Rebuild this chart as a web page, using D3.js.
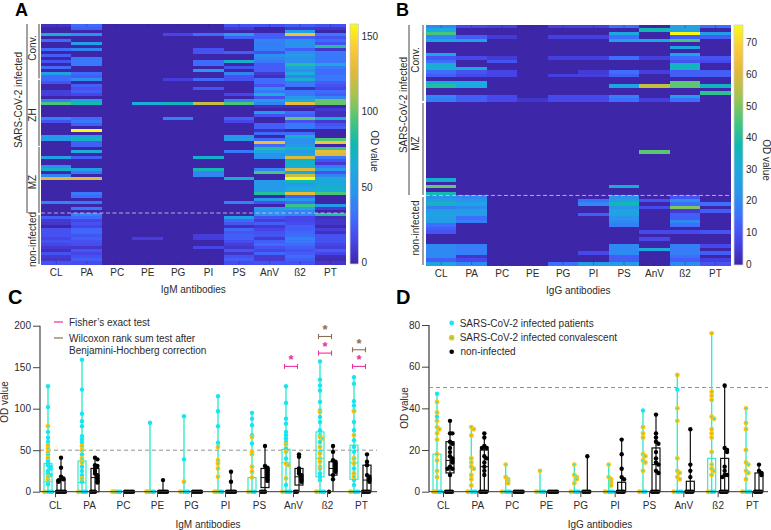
<!DOCTYPE html>
<html><head><meta charset="utf-8">
<script src="https://cdn.jsdelivr.net/npm/d3@7/dist/d3.min.js"></script>
<style>
html,body{margin:0;padding:0;background:#fff}
svg{display:block}
text{font-family:"Liberation Sans",Arial,sans-serif;fill:#2b2b2b}
</style></head><body><svg id="c" width="771" height="530"></svg>
<script>
const categories=["CL","PA","PC","PE","PG","PI","PS","AnV","ß2","PT"];
const parulaStops=["#3e26a8","#4746eb","#3e6ffe","#2797eb","#1caadf","#0fb9b1","#48c67a","#a2c450","#e0b93b","#fcc938","#f9fb15"];

// Panel A heat map: row -> OD value, one object per antibody (80 rows)
const igmCL={0:6,3:70,5:30,8:30,10:25,12:20,14:30,16:55,17:30,18:30,19:20,22:12,23:12,25:40,26:95,31:40,32:20,37:50,38:50,44:55,47:45,48:70,50:40,51:125,59:40,64:25,65:10,66:8,68:20,69:20,70:20,71:15,72:20,73:15,74:10,75:5,76:20,77:10,78:8,79:20};
const igmPA={0:30,1:25,3:45,6:55,8:40,11:35,12:35,13:35,16:30,17:25,18:45,20:25,21:20,22:25,23:15,25:55,26:80,31:30,32:35,33:25,35:158,37:55,38:75,39:25,40:25,42:65,44:25,48:55,49:35,51:125,56:35,57:30,59:35,61:35,63:40,64:30,65:15,66:20,67:15,68:28,69:28,70:22,71:25,72:20,73:18,74:8,75:22,76:15,77:20,78:25,79:18};
const igmPC={};
const igmPE={26:65,71:12};
const igmPG={3:15,18:12,26:75,31:40};
const igmPI={3:30,8:20,9:20,12:30,13:30,15:50,18:30,21:22,26:120,44:70,48:80,49:40,50:40,70:12,71:12,74:15};
const igmPS={0:20,1:10,3:55,4:25,9:25,12:70,14:20,16:40,17:20,18:20,23:15,25:40,26:95,31:25,32:15,37:50,38:50,42:35,51:70,59:40,64:55,65:30,66:22,67:5,68:28,69:22,70:25,71:25,72:18,73:12,74:8,75:22,76:8,77:20,78:25,79:18};
const igmAnV={0:20,3:25,4:25,5:40,6:38,7:38,8:38,9:20,10:45,11:40,12:35,13:25,14:25,15:25,16:10,17:5,18:30,19:30,20:20,21:45,22:35,23:65,24:20,25:50,26:40,27:5,29:50,30:20,33:25,34:25,35:5,36:30,38:30,39:132,40:30,41:85,42:60,43:45,44:45,48:40,49:95,52:50,53:50,54:50,55:50,56:85,58:50,59:20,61:50,62:45,63:45,64:20,65:12,66:25,67:10,68:15,69:20,70:22,71:10,72:25,73:30,74:20,75:15,76:28,77:10,78:10,79:20};
const igmB2={0:25,1:10,2:55,3:135,4:25,5:45,6:45,7:45,8:25,9:45,10:50,11:45,12:45,13:85,14:55,15:45,16:65,17:40,18:70,19:35,20:35,21:5,22:35,23:35,24:50,25:65,26:130,27:5,29:30,30:25,31:100,32:20,33:35,34:35,36:30,37:70,38:45,39:45,40:50,41:75,42:50,43:60,44:125,45:75,46:70,47:65,48:125,49:60,50:120,51:158,52:75,53:50,54:60,55:65,56:130,57:25,58:50,59:30,60:90,61:60,62:40,63:40,64:15,65:15,66:18,67:25,68:25,69:28,70:30,71:40,72:35,73:30,74:25,75:20,76:25,77:30,78:25,79:20};
const igmPT={0:20,1:8,3:35,4:20,5:30,6:20,7:85,8:8,9:35,10:35,11:35,12:35,13:60,14:35,15:30,16:30,17:35,18:35,19:25,20:20,21:15,22:30,23:25,24:40,25:100,26:100,28:10,29:5,30:5,31:70,32:10,33:20,34:25,38:95,39:138,41:90,42:130,43:125,44:35,45:20,46:10,47:35,48:50,49:20,50:40,51:70,52:60,53:60,54:70,55:65,56:95,60:50,61:10,63:85,64:5,65:8,66:8,67:2,68:12,69:5,70:20,71:20,72:20,73:15,74:12,75:25,76:15,77:5,78:3,79:8};
const igmHeatColumns=[igmCL,igmPA,igmPC,igmPE,igmPG,igmPI,igmPS,igmAnV,igmB2,igmPT];

// Panel B heat map (69 rows)
const iggCL={0:20,1:30,2:45,3:20,4:30,8:28,9:10,10:15,11:32,12:32,13:15,14:12,16:30,17:40,20:20,21:18,44:33,46:48,48:38,49:22,50:25,51:35,52:18,53:25,54:28,55:25,56:25,57:15,58:12,59:10,63:20,64:20,65:20,66:20,67:12,68:28};
const iggPA={0:8,3:12,4:28,9:8,12:32,13:10,14:8,16:30,17:30,20:12,21:12,49:20,50:22,51:28,52:20,53:25,54:25,55:15,56:18,63:18,64:18,65:18,66:4,67:8,68:20};
const iggPC={0:6,3:5,9:5,10:10,13:7,14:7,20:8,21:8};
const iggPE={21:4};
const iggPG={0:6,3:6,9:6,14:6,20:8,21:8,68:15};
const iggPI={0:6,3:6,9:6,13:5,14:6,20:8,21:8,50:15,51:20,54:12,65:8,68:25};
const iggPS={0:15,2:30,3:15,4:28,9:15,13:15,14:12,17:28,20:18,21:15,46:33,49:22,50:25,51:38,52:22,53:28,54:28,55:22,56:20,57:18,63:20,64:20,65:20,66:12,67:12,68:25};
const iggAnV={1:38,4:30,9:6,13:6,17:57,21:6,36:47,50:10,52:8,59:8,61:8,64:30};
const iggB2={0:27,1:27,2:75,3:12,4:45,6:28,8:28,9:14,10:10,11:35,12:35,13:12,14:12,16:47,17:47,20:25,21:15,49:10,50:22,51:15,52:50,53:5,54:12,55:12,56:20,57:15,59:8,63:18,64:18,65:18,66:15,67:12,68:20};
const iggPT={0:15,2:25,3:12,9:10,10:8,13:12,14:12,17:35,19:42,51:15,53:12,59:10,63:8,65:12,67:6,68:10};
const iggHeatColumns=[iggCL,iggPA,iggPC,iggPE,iggPG,iggPI,iggPS,iggAnV,iggB2,iggPT];

// Panel C strip plot values
const cInfected=[[127,102,72,65,60,45,38,35,32,30,28,25,22,20,15,12,9,0,0,0],[159,123,94,85,79,67,63,59,50,45,40,36,30,25,20,12,0,0,0],[0,0,0],[83,0,0,0],[91,39,0,0,0],[115,97,79,59,0,0,0],[95,88,80,68,58,0,0],[127,107,88,82,72,68,64,60,52,40,8,0,0,0],[157,135,128,122,108,98,90,84,74,68,60,48,28,22,18,14,0,0,0],[138,130,109,104,98,84,74,62,54,48,40,34,28,22,14,8,0,0,0]];
const cConvalescent=[[79,56,52,48,41,18,14,0],[55,50,40,35,16,0],[0,0],[0,0],[12,0],[54,38,34,28,18,0,0],[66,48,45,30,24,17,0],[57,48,34,32,16,0],[96,66,64,54,46,40,36,30,0],[97,68,40,34,22,18,0]];
const cNon=[[41,29,18,16,15,14,13,12,0,0,0,0,0],[41,39,32,31,28,25,22,20,18,16,14,12,11,0,0,0],[0,0,0,0,0],[14,0,0,0,0,0],[0,0,0,0,0],[24,12,0,0,0,0,0],[55,31,29,28,26,25,23,21,19,17,15,13,0,0,0],[45,42,28,25,22,20,18,16,14,12,0,0],[55,48,38,36,34,32,30,28,26,24,20,15,0],[45,36,32,20,18,16,14,12,0,0,0,0]];
const cInfectedBox=[[0,12,34],[0,11,37],null,null,null,null,[0,0,17],[0,35,51],[18,40,72],[15,35,56]];
const cNonBox=[[0,0,14],[0,17,28],null,null,null,null,[5,17,28],[8,18,28],[20,28,36],[0,14,32]];
const sigFisher=[["AnV",151],["ß2",167],["PT",151]];
const sigWilcoxon=[["ß2",187],["PT",171]];

// Panel D strip plot values
const dInfected=[[47,36,0,0,0],[0,0,0],[0,0,0],[0,0,0],[0,0,0],[0,0,0],[39,0,0],[49,0,0,0],[0,0],[0,0,0]];
const dConvalescent=[[43,38,34,31,30,28,25,18,15,10,7,0,0],[31,30,27,16,14,12,11,8,6,3,0],[13,7,6,5,4,0],[10,0],[13,8,7,6,4,0],[13,7,6,5,4,3,0],[31,28,26,18,17,15,14,10,0],[56,40,34,16,10,9,7,6,0],[76,48,46,44,36,35,30,28,26,19,13,11,10,8,0],[40,33,30,20,14,13,10,9,6,0]];
const dNon=[[34,28,28,24,23,21,19,17,16,15,14,12,11,11,8,0,0,0,0],[28,26,22,21,21,17,16,14,12,10,8,0,0,0,0],[0,0,0,0,0],[0,0,0,0,0],[17,0,0,0,0],[25,18,11,7,6,0,0,0,0],[37,28,26,24,23,19,16,14,13,10,9,0,0,0,0],[30,13,10,7,0,0,0,0],[51,21,20,19,12,10,8,8,7,0,0,0,0],[13,10,9,8,0,0,0,0]];
const dInfectedBox=[[0,0,18],null,null,null,null,null,null,null,[0,0,16],null];
const dNonBox=[[9,15,24],[0,12,20],null,null,null,[0,0,4.5],[0,13,21],[0,0,5],[0,0,16],[0,0,9]];

const CYAN="#16e6f4",TURQ="#33ecc8",GOLD="#fcc60e",PINK="#ec2f9e",BROWN="#8d6e52";
const FS=10;
const svg=d3.select("#c");
function txt(x,y,s,size,o={}){
  const t=svg.append("text").attr("x",x).attr("y",y).attr("font-size",size).text(s);
  if(o.anchor)t.attr("text-anchor",o.anchor);
  if(o.weight)t.attr("font-weight",o.weight);
  if(o.rot!==undefined)t.attr("transform",`rotate(${o.rot} ${x} ${y})`);
  if(o.fill)t.style("fill",o.fill);
  return t;
}
function vline(x,y0,y1,w=1,c="#444"){svg.append("line").attr("x1",x).attr("x2",x).attr("y1",y0).attr("y2",y1).attr("stroke",c).attr("stroke-width",w);}

function heatmap(cols,nRows,L,maxV,cbTicks,dashRow,xTitle){
  const x=d3.scaleBand().domain(categories).range([L.x0,L.x1]);
  const y=d3.scaleBand().domain(d3.range(nRows)).range([L.y0,L.y1]);
  const col=d3.scaleLinear().domain(parulaStops.map((_,i)=>i/10*maxV)).range(parulaStops);
  const g=svg.append("g").attr("shape-rendering","crispEdges");
  categories.forEach((c,i)=>{
    g.selectAll(null).data(d3.range(nRows)).join("rect")
     .attr("x",x(c)).attr("width",x.bandwidth()+.5).attr("y",r=>y(r)).attr("height",y.bandwidth()+.5)
     .attr("fill",r=>col(cols[i][r]||0));
  });
  categories.forEach(c=>{
    const xc=x(c)+x.bandwidth()/2;
    svg.append("line").attr("x1",xc).attr("x2",xc).attr("y1",L.y0).attr("y2",L.y0+3).attr("stroke","#26265f").attr("stroke-opacity",.55).attr("stroke-width",.7);
    svg.append("line").attr("x1",xc).attr("x2",xc).attr("y1",L.y1-3).attr("y2",L.y1).attr("stroke","#26265f").attr("stroke-opacity",.55).attr("stroke-width",.7);
  });
  svg.append("line").attr("x1",L.x0).attr("x2",L.x1).attr("y1",y(dashRow)).attr("y2",y(dashRow))
     .attr("stroke","#cfd0ee").attr("stroke-width",.8).attr("stroke-dasharray","4 2.5");
  const ax=svg.append("g").attr("transform",`translate(0,${L.y1})`).call(d3.axisBottom(x).tickSize(0).tickPadding(5));
  ax.select(".domain").remove();
  ax.selectAll("text").attr("font-size",FS).attr("font-family",null);
  txt((L.x0+L.x1)/2,L.y1+29,xTitle,FS,{anchor:"middle"});
  const cb=d3.scaleLinear().domain([0,maxV]).range([L.cb0,L.y0]);
  const defsId="g"+L.x0;
  const grad=svg.append("defs").append("linearGradient").attr("id",defsId).attr("x1",0).attr("x2",0).attr("y1",1).attr("y2",0);
  parulaStops.forEach((s,i)=>grad.append("stop").attr("offset",i/10).attr("stop-color",s));
  svg.append("rect").attr("x",L.cbx).attr("width",L.cbw).attr("y",L.y0).attr("height",L.y1-L.y0).attr("fill",`url(#${defsId})`).attr("stroke","#cfcfcf").attr("stroke-width",.8);
  const cax=svg.append("g").attr("transform",`translate(${L.cbx+L.cbw},0)`).call(d3.axisRight(cb).tickValues(cbTicks).tickSize(0).tickPadding(3));
  cax.select(".domain").remove();
  cax.selectAll("text").attr("font-size",FS).attr("font-family",null);
  txt(L.odx,L.ody,"OD value",FS,{anchor:"middle",rot:90});
}

function stripPanel(o){
  const x=d3.scalePoint().domain(categories).range(o.xr);
  const y=d3.scaleLinear().domain([0,o.ymax]).range([491.7,o.ytop]);
  svg.append("line").attr("x1",o.ax0).attr("x2",o.ax1).attr("y1",y(50)).attr("y2",y(50))
     .attr("stroke","#777").attr("stroke-width",.8).attr("stroke-dasharray","4 3");
  function swarm(vals,xc,zeroOffs){
    const seen=[];let zi=0;
    return vals.map(v=>{
      if(v===0){const off=zeroOffs[zi%zeroOffs.length];zi++;return{v,px:xc+off};}
      const py=y(v);const near=seen.filter(s=>Math.abs(s-py)<2.2).length;seen.push(py);
      const off=near===0?0:(near%2?1:-1)*Math.ceil(near/2)*2.4;
      return{v,px:xc+off};
    });
  }
  categories.forEach((c,i)=>{
    const xi=x(c)+o.offI,xn=x(c)+o.offN;
    const allI=o.inf[i].concat(o.con[i]);
    const gI=svg.append("g");
    gI.append("line").attr("x1",xi).attr("x2",xi).attr("y1",y(0)).attr("y2",y(d3.max(allI))).attr("stroke",TURQ).attr("stroke-width",1.4);
    const b=o.infBox[i];
    if(b){
      gI.append("rect").attr("x",xi-4).attr("width",8).attr("y",y(b[2])).attr("height",y(b[0])-y(b[2])).attr("fill","none").attr("stroke",TURQ).attr("stroke-width",1.2);
      gI.append("line").attr("x1",xi-4).attr("x2",xi+4).attr("y1",y(b[1])).attr("y2",y(b[1])).attr("stroke",TURQ).attr("stroke-width",1);
    }
    const gN=svg.append("g");
    gN.append("line").attr("x1",xn).attr("x2",xn).attr("y1",y(0)).attr("y2",y(d3.max(o.non[i]))).attr("stroke","#111").attr("stroke-width",1.2);
    const nb=o.nonBox[i];
    if(nb){
      gN.append("rect").attr("x",xn-4).attr("width",8).attr("y",y(nb[2])).attr("height",y(nb[0])-y(nb[2])).attr("fill","none").attr("stroke","#111").attr("stroke-width",1.2);
      gN.append("line").attr("x1",xn-4).attr("x2",xn+4).attr("y1",y(nb[1])).attr("y2",y(nb[1])).attr("stroke","#111").attr("stroke-width",1);
    }
    gN.selectAll("circle").data(swarm(o.non[i],xn,[-4,-2,0,2,4])).join("circle")
      .attr("cx",d=>d.px).attr("cy",d=>y(d.v)).attr("r",2.2).attr("fill","#000");
    gI.selectAll("circle.i").data(swarm(o.inf[i],xi,[0,2.4,4.2])).join("circle")
      .attr("cx",d=>d.px).attr("cy",d=>y(d.v)).attr("r",2.2).attr("fill",CYAN);
    gI.selectAll("circle.g").data(swarm(o.con[i],xi,[-3.5,-1.5])).join("circle")
      .attr("cx",d=>d.px).attr("cy",d=>y(d.v)).attr("r",1.7).attr("fill",CYAN).attr("stroke",GOLD).attr("stroke-width",1.5);
  });
  const ya=svg.append("g").attr("transform",`translate(${o.ax0},0)`).call(d3.axisLeft(y).tickValues(o.yticks).tickSize(7).tickPadding(2));
  ya.selectAll("text").attr("font-size",FS).attr("font-family",null);
  ya.selectAll("line").attr("stroke","#444");
  ya.select(".domain").attr("stroke",o.axc).attr("stroke-width",o.axw).attr("d",`M0,${y(o.ymax)}V${y(0)}`);
  const xa=svg.append("g").attr("transform",`translate(0,491.7)`).call(d3.axisBottom(x).tickSize(5.5).tickPadding(5));
  xa.select(".domain").remove();
  xa.selectAll("text").attr("font-size",FS).attr("font-family",null);
  xa.selectAll("line").attr("stroke","#444");
  svg.append("line").attr("x1",o.ax0).attr("x2",o.ax1).attr("y1",491.7).attr("y2",491.7).attr("stroke","#333").attr("stroke-width",1);
  txt(o.ylx,o.yly,"OD value",FS,{anchor:"middle",rot:-90});
  txt(o.titleX,528,o.title,FS,{anchor:"middle"});
  return {x,y};
}

heatmap(igmHeatColumns,80,{x0:41,x1:345.7,y0:24,y1:264,cb0:262.7,cbx:350,cbw:8.5,odx:371,ody:151},158,[0,50,100,150],63,"IgM antibodies");
heatmap(iggHeatColumns,69,{x0:426,x1:730.7,y0:25,y1:265,cb0:264,cbx:734,cbw:9,odx:763,ody:160},75.6,[0,10,20,30,40,50,60,70],49,"IgG antibodies");

// Panel A side labels
vline(27,24,213);vline(39,24,78.5,1);vline(39,80,146,1);vline(39,147,213,1);vline(39,215,264,1);
txt(22,100,"SARS-CoV-2 infected",FS,{anchor:"middle",rot:-90});
txt(36,48,"Conv.",FS,{anchor:"middle",rot:-90});
txt(36,115,"ZH",FS,{anchor:"middle",rot:-90});
txt(36,182,"MZ",FS,{anchor:"middle",rot:-90});
txt(36,239.5,"non-infected",FS,{anchor:"middle",rot:-90});
// Panel B side labels
vline(409,25,195);vline(423,25,101);vline(423,103,195);vline(423,197,265);
txt(407,105,"SARS-CoV-2 infected",FS,{anchor:"middle",rot:-90});
txt(419,60,"Conv.",FS,{anchor:"middle",rot:-90});
txt(419,143.5,"MZ",FS,{anchor:"middle",rot:-90});
txt(419,228,"non-infected",FS,{anchor:"middle",rot:-90});

// Panel C
const pc=stripPanel({xr:[55,361],offI:-7,offN:6,ymax:200,ytop:325.7,inf:cInfected,con:cConvalescent,non:cNon,infBox:cInfectedBox,nonBox:cNonBox,ax0:40,ax1:377,axc:"#444",axw:1.2,yticks:[0,50,100,150,200],ylx:8,yly:402,titleX:208,title:"IgM antibodies"});
function brackets(list,color){
  list.forEach(([c,v])=>{
    const xc=pc.x(c)-2,yy=pc.y(v);
    const g=svg.append("g").attr("stroke",color).attr("stroke-width",1.1);
    g.append("line").attr("x1",xc-6.5).attr("x2",xc+6.5).attr("y1",yy).attr("y2",yy);
    g.append("line").attr("x1",xc-6.5).attr("x2",xc-6.5).attr("y1",yy-2.5).attr("y2",yy+2.5);
    g.append("line").attr("x1",xc+6.5).attr("x2",xc+6.5).attr("y1",yy-2.5).attr("y2",yy+2.5);
    txt(xc,yy-2,"*",13,{anchor:"middle",fill:color,weight:"bold"});
  });
}
brackets(sigFisher,PINK);brackets(sigWilcoxon,BROWN);

// Panel D
stripPanel({xr:[443,752],offI:-6,offN:7,ymax:80,ytop:325,inf:dInfected,con:dConvalescent,non:dNon,infBox:dInfectedBox,nonBox:dNonBox,ax0:429,ax1:768,axc:"#888",axw:2,yticks:[0,20,40,60,80],ylx:408,yly:408,titleX:600,title:"IgG antibodies"});

// Legends
svg.append("line").attr("x1",54).attr("x2",63).attr("y1",322).attr("y2",322).attr("stroke",PINK).attr("stroke-width",1.2);
svg.append("line").attr("x1",54).attr("x2",63).attr("y1",338).attr("y2",338).attr("stroke",BROWN).attr("stroke-width",1.2);
txt(69,325.5,"Fisher’s exact test",FS);
txt(69,341.5,"Wilcoxon rank sum test after",FS);
txt(69,354,"Benjamini-Hochberg correction",FS);
svg.append("circle").attr("cx",451.7).attr("cy",323).attr("r",2.4).attr("fill",CYAN);
svg.append("circle").attr("cx",451.7).attr("cy",337.7).attr("r",2.1).attr("fill",CYAN).attr("stroke",GOLD).attr("stroke-width",1.6);
svg.append("circle").attr("cx",451.7).attr("cy",351.7).attr("r",2.3).attr("fill","#000");
txt(459.7,326.5,"SARS-CoV-2 infected patients",FS);
txt(459.7,341,"SARS-CoV-2 infected convalescent",FS);
txt(460.5,355,"non-infected",FS);

// Panel letters
[["A",15,16.3,18],["B",396,16.3,18],["C",8,304,20],["D",396,304,20]].forEach(([s,x,y,f])=>txt(x,y,s,f,{weight:"bold",fill:"#000"}));
</script></body></html>
